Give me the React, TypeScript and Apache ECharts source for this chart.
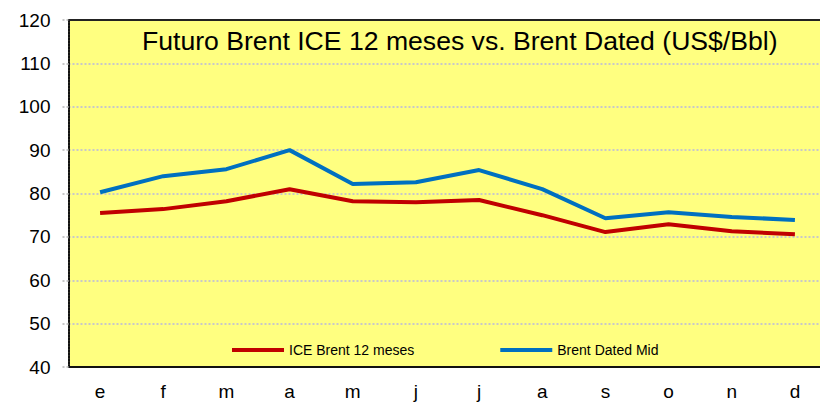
import React, { useEffect, useRef } from "react";
import * as echarts from "echarts";

const months = ["e", "f", "m", "a", "m", "j", "j", "a", "s", "o", "n", "d"];
const iceBrent12 = [75.5, 76.4, 78.2, 81.0, 78.2, 78.0, 78.5, 75.0, 71.1, 72.9, 71.3, 70.6];
const brentDatedMid = [80.3, 84.0, 85.6, 90.0, 82.2, 82.6, 85.4, 81.0, 74.3, 75.7, 74.6, 73.9];
const yTicks = { min: 40, max: 120, interval: 10 };
const titleText = "Futuro Brent ICE 12 meses vs. Brent Dated (US$/Bbl)";

const FONT = "'Liberation Sans', Arial, sans-serif";
const CHART_W = 830;

export default function App() {
  const ref = useRef<HTMLDivElement>(null);
  useEffect(() => {
    if (!ref.current) return;
    const chart = echarts.init(ref.current, undefined, { renderer: "svg" });
    const gridLeft = 68.5;
    const gridTop = 20;
    const gridHeight = 347;
    chart.setOption({
      animation: false,
      textStyle: { fontFamily: FONT },
      title: {
        text: titleText,
        left: 142,
        top: 27,
        padding: 0,
        textStyle: { fontFamily: FONT, fontSize: 26.6, fontWeight: "normal", color: "#000" },
      },
      legend: {
        left: 232,
        top: 343,
        padding: 0,
        itemWidth: 52,
        itemHeight: 4,
        itemGap: 86,
        icon: "rect",
        textStyle: { fontFamily: FONT, fontSize: 14, color: "#000" },
        data: ["ICE Brent 12 meses", "Brent Dated Mid"],
      },
      grid: {
        left: gridLeft,
        top: gridTop,
        width: 758,
        height: gridHeight,
        show: true,
        backgroundColor: "#FFFF80",
        borderWidth: 0,
      },
      graphic: [
        {
          type: "line",
          shape: { x1: gridLeft, y1: gridTop, x2: CHART_W, y2: gridTop },
          style: { stroke: "#222", lineWidth: 2 },
          z: 10,
        },
      ],
      xAxis: {
        type: "category",
        data: months,
        boundaryGap: true,
        axisLine: { show: true, onZero: false, lineStyle: { color: "#111", width: 2 } },
        axisTick: { show: false },
        axisLabel: { fontFamily: FONT, fontSize: 19, color: "#000", margin: 15 },
        splitLine: { show: false },
      },
      yAxis: {
        type: "value",
        min: yTicks.min,
        max: yTicks.max,
        interval: yTicks.interval,
        axisLine: { show: true, lineStyle: { color: "#111", width: 2, type: [2, 1] } },
        axisTick: { show: true, length: 7, lineStyle: { color: "#c8c8c8", width: 2, type: [2, 2] } },
        axisLabel: { fontFamily: FONT, fontSize: 19, color: "#000", margin: 18 },
        splitLine: { show: true, lineStyle: { color: "#c8c8c8", width: 2, type: [2, 2] } },
      },
      series: [
        {
          name: "ICE Brent 12 meses",
          type: "line",
          data: iceBrent12,
          color: "#C00000",
          lineStyle: { width: 4, color: "#C00000" },
          showSymbol: false,
          symbol: "none",
        },
        {
          name: "Brent Dated Mid",
          type: "line",
          data: brentDatedMid,
          color: "#0070C0",
          lineStyle: { width: 4, color: "#0070C0" },
          showSymbol: false,
          symbol: "none",
        },
      ],
    });
    return () => chart.dispose();
  }, []);
  return (
    <div style={{ width: 820, height: 403, position: "absolute", left: 0, top: 0, overflow: "hidden" }}>
      <div ref={ref} style={{ width: CHART_W, height: 403 }} />
    </div>
  );
}
